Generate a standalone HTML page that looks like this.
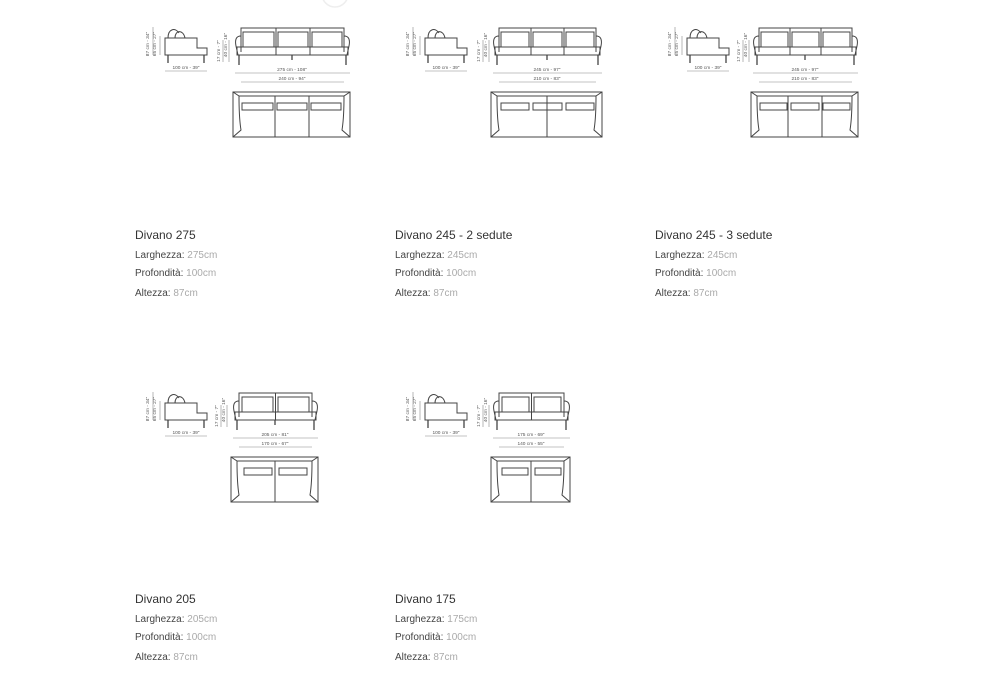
<!DOCTYPE html>
<html><head><meta charset="utf-8"><style>
html,body{margin:0;padding:0;background:#fff;width:1000px;height:700px;overflow:hidden}
svg{position:absolute;left:0;top:0}
.t{position:absolute;font-family:"Liberation Sans",sans-serif;white-space:nowrap}
.h{font-size:12px;color:#333}
.p{font-size:10px;color:#444}
.p span{color:#aaa}
</style></head><body>
<svg width="1000" height="700" viewBox="0 0 1000 700">
<defs>
<g id="side" fill="none" stroke="#444" stroke-width="1">
<path d="M0,11 H32 V21 H42 V28 H0 Z"/>
<path d="M3,28 V36 M39,28 V36" stroke-width="1.3"/>
<path d="M3,11 C3,2 10,0 14,6 M10,11 C10,3 18,2 20,11"/>
<path d="M-12,0 V28 M-5,9 V28 M0,44 H42" stroke="#888" stroke-width="0.6"/>
</g>
</defs>
<circle cx="335" cy="-6" r="13" fill="none" stroke="#eee" stroke-width="1.5"/>
<g id="row1">
<use href="#side" x="165" y="27"/>
<use href="#side" x="425" y="27"/>
<use href="#side" x="687" y="27"/>
<g fill="none" stroke="#444" stroke-width="1">
<path d="M241,52 V28 H344 V52 M276,28 V55 M310,28 V55"/>
<rect x="243" y="32" width="31" height="15"/><rect x="278" y="32" width="30" height="15"/><rect x="312" y="32" width="30" height="15"/>
<path d="M241,36 Q234,36 236,46 L238,55 M344,36 Q351,36 349,46 L347,55"/>
<rect x="237" y="47" width="111" height="8"/>
<path d="M239,55 V65 M346,55 V65 M292,55 V60" stroke-width="1.3"/>
<path d="M235,73 H350 M241,82 H344" stroke="#888" stroke-width="0.6"/>
<rect x="233" y="92" width="117" height="45"/>
<path d="M239,96 H344 M233,92 L239,96 Q239,118 241,130 L233,137 M350,92 L344,96 Q344,118 342,130 L350,137 M275,96 V137 M309,96 V137"/>
<rect x="242" y="103" width="31" height="7"/><rect x="277" y="103" width="30" height="7"/><rect x="311" y="103" width="30" height="7"/>
<path d="M499,52 V28 H596 V52 M531,28 V55 M564,28 V55"/>
<rect x="501" y="32" width="28" height="15"/><rect x="533" y="32" width="29" height="15"/><rect x="566" y="32" width="28" height="15"/>
<path d="M499,36 Q492,36 494,46 L496,55 M596,36 Q603,36 601,46 L599,55"/>
<rect x="495" y="47" width="105" height="8"/>
<path d="M497,55 V65 M598,55 V65 M547,55 V60" stroke-width="1.3"/>
<path d="M493,73 H602 M499,82 H596" stroke="#888" stroke-width="0.6"/>
<rect x="491" y="92" width="111" height="45"/>
<path d="M497,96 H596 M491,92 L497,96 Q497,118 499,130 L491,137 M602,92 L596,96 Q596,118 594,130 L602,137 M547,96 V137"/>
<rect x="501" y="103" width="28" height="7"/><rect x="533" y="103" width="29" height="7"/><rect x="566" y="103" width="28" height="7"/>
<path d="M759,52 V28 H852 V52 M790,28 V55 M821,28 V55"/>
<rect x="761" y="32" width="27" height="15"/><rect x="792" y="32" width="27" height="15"/><rect x="823" y="32" width="27" height="15"/>
<path d="M759,36 Q752,36 754,46 L756,55 M852,36 Q859,36 857,46 L855,55"/>
<rect x="755" y="47" width="101" height="8"/>
<path d="M757,55 V65 M854,55 V65 M805,55 V60" stroke-width="1.3"/>
<path d="M753,73 H858 M759,82 H852" stroke="#888" stroke-width="0.6"/>
<rect x="751" y="92" width="107" height="45"/>
<path d="M757,96 H852 M751,92 L757,96 Q757,118 759,130 L751,137 M858,92 L852,96 Q852,118 850,130 L858,137 M788,96 V137 M822,96 V137"/>
<rect x="760" y="103" width="27" height="7"/><rect x="791" y="103" width="28" height="7"/><rect x="823" y="103" width="27" height="7"/>
<path d="M223,40 V62 M229,40 V62 M483,40 V62 M489,40 V62 M743,40 V62 M749,40 V62" stroke="#888" stroke-width="0.6"/>
</g>
<g font-family="Liberation Sans, sans-serif" font-size="4.8" fill="#555" text-anchor="middle">
<text x="186" y="69">100 cm - 39"</text>
<text x="292" y="71">275 cm - 108"</text><text x="292" y="80">240 cm - 94"</text>
<text x="446" y="69">100 cm - 39"</text>
<text x="547" y="71">245 cm - 97"</text><text x="547" y="80">210 cm - 83"</text>
<text x="708" y="69">100 cm - 39"</text>
<text x="805" y="71">245 cm - 97"</text><text x="805" y="80">210 cm - 83"</text>
<g transform="translate(149,44) rotate(-90)"><text>87 cm - 34"</text><text y="7">65 cm - 27"</text></g>
<g transform="translate(409,44) rotate(-90)"><text>87 cm - 34"</text><text y="7">65 cm - 27"</text></g>
<g transform="translate(671,44) rotate(-90)"><text>87 cm - 34"</text><text y="7">65 cm - 27"</text></g>
<g transform="translate(220,51) rotate(-90)"><text>17 cm - 7"</text><text x="6" y="7">40 cm - 16"</text></g>
<g transform="translate(480,51) rotate(-90)"><text>17 cm - 7"</text><text x="6" y="7">40 cm - 16"</text></g>
<g transform="translate(740,51) rotate(-90)"><text>17 cm - 7"</text><text x="6" y="7">40 cm - 16"</text></g>
</g>
</g>
<g transform="translate(0,365)">
<use href="#side" x="165" y="27"/>
<use href="#side" x="425" y="27"/>
<g fill="none" stroke="#444" stroke-width="1">
<path d="M239,52 V28 H312 V52 M275.5,28 V55"/>
<rect x="242" y="32" width="31" height="15"/><rect x="278" y="32" width="31" height="15"/>
<path d="M239,36 Q232,36 234,46 L236,55 M312,36 Q319,36 317,46 L315,55"/>
<rect x="235" y="47" width="81" height="8"/>
<path d="M237,55 V65 M314,55 V65 M275,55 V60" stroke-width="1.3"/>
<path d="M233,73 H318 M239,82 H312" stroke="#888" stroke-width="0.6"/>
<rect x="231" y="92" width="87" height="45"/>
<path d="M237,96 H312 M231,92 L237,96 Q237,118 239,130 L231,137 M318,92 L312,96 Q312,118 310,130 L318,137 M275,96 V137"/>
<rect x="244" y="103" width="28" height="7"/><rect x="279" y="103" width="28" height="7"/>
<path d="M499,52 V28 H564 V52 M531.5,28 V55"/>
<rect x="502" y="32" width="27" height="15"/><rect x="534" y="32" width="27" height="15"/>
<path d="M499,36 Q492,36 494,46 L496,55 M564,36 Q571,36 569,46 L567,55"/>
<rect x="495" y="47" width="73" height="8"/>
<path d="M497,55 V65 M566,55 V65" stroke-width="1.3"/>
<path d="M493,73 H570 M499,82 H564" stroke="#888" stroke-width="0.6"/>
<rect x="491" y="92" width="79" height="45"/>
<path d="M497,96 H564 M491,92 L497,96 Q497,118 499,130 L491,137 M570,92 L564,96 Q564,118 562,130 L570,137 M531,96 V137"/>
<rect x="502" y="103" width="26" height="7"/><rect x="535" y="103" width="26" height="7"/>
<path d="M221,40 V62 M227,40 V62 M483,40 V62 M489,40 V62" stroke="#888" stroke-width="0.6"/>
</g>
<g font-family="Liberation Sans, sans-serif" font-size="4.8" fill="#555" text-anchor="middle">
<text x="186" y="69">100 cm - 39"</text>
<text x="275" y="71">205 cm - 81"</text><text x="275" y="80">170 cm - 67"</text>
<text x="446" y="69">100 cm - 39"</text>
<text x="531" y="71">175 cm - 69"</text><text x="531" y="80">140 cm - 55"</text>
<g transform="translate(149,44) rotate(-90)"><text>87 cm - 34"</text><text y="7">65 cm - 27"</text></g>
<g transform="translate(409,44) rotate(-90)"><text>87 cm - 34"</text><text y="7">65 cm - 27"</text></g>
<g transform="translate(218,51) rotate(-90)"><text>17 cm - 7"</text><text x="6" y="7">40 cm - 16"</text></g>
<g transform="translate(480,51) rotate(-90)"><text>17 cm - 7"</text><text x="6" y="7">40 cm - 16"</text></g>
</g>
</g>
</svg>

<div class="t h" style="left:135px;top:228px">Divano 275</div>
<div class="t p" style="left:135px;top:250px">Larghezza: <span>275cm</span></div>
<div class="t p" style="left:135px;top:268px">Profondità: <span>100cm</span></div>
<div class="t p" style="left:135px;top:288px">Altezza: <span>87cm</span></div>

<div class="t h" style="left:395px;top:228px">Divano 245 - 2 sedute</div>
<div class="t p" style="left:395px;top:250px">Larghezza: <span>245cm</span></div>
<div class="t p" style="left:395px;top:268px">Profondità: <span>100cm</span></div>
<div class="t p" style="left:395px;top:288px">Altezza: <span>87cm</span></div>

<div class="t h" style="left:655px;top:228px">Divano 245 - 3 sedute</div>
<div class="t p" style="left:655px;top:250px">Larghezza: <span>245cm</span></div>
<div class="t p" style="left:655px;top:268px">Profondità: <span>100cm</span></div>
<div class="t p" style="left:655px;top:288px">Altezza: <span>87cm</span></div>

<div class="t h" style="left:135px;top:592px">Divano 205</div>
<div class="t p" style="left:135px;top:614px">Larghezza: <span>205cm</span></div>
<div class="t p" style="left:135px;top:632px">Profondità: <span>100cm</span></div>
<div class="t p" style="left:135px;top:652px">Altezza: <span>87cm</span></div>

<div class="t h" style="left:395px;top:592px">Divano 175</div>
<div class="t p" style="left:395px;top:614px">Larghezza: <span>175cm</span></div>
<div class="t p" style="left:395px;top:632px">Profondità: <span>100cm</span></div>
<div class="t p" style="left:395px;top:652px">Altezza: <span>87cm</span></div>
</body></html>
